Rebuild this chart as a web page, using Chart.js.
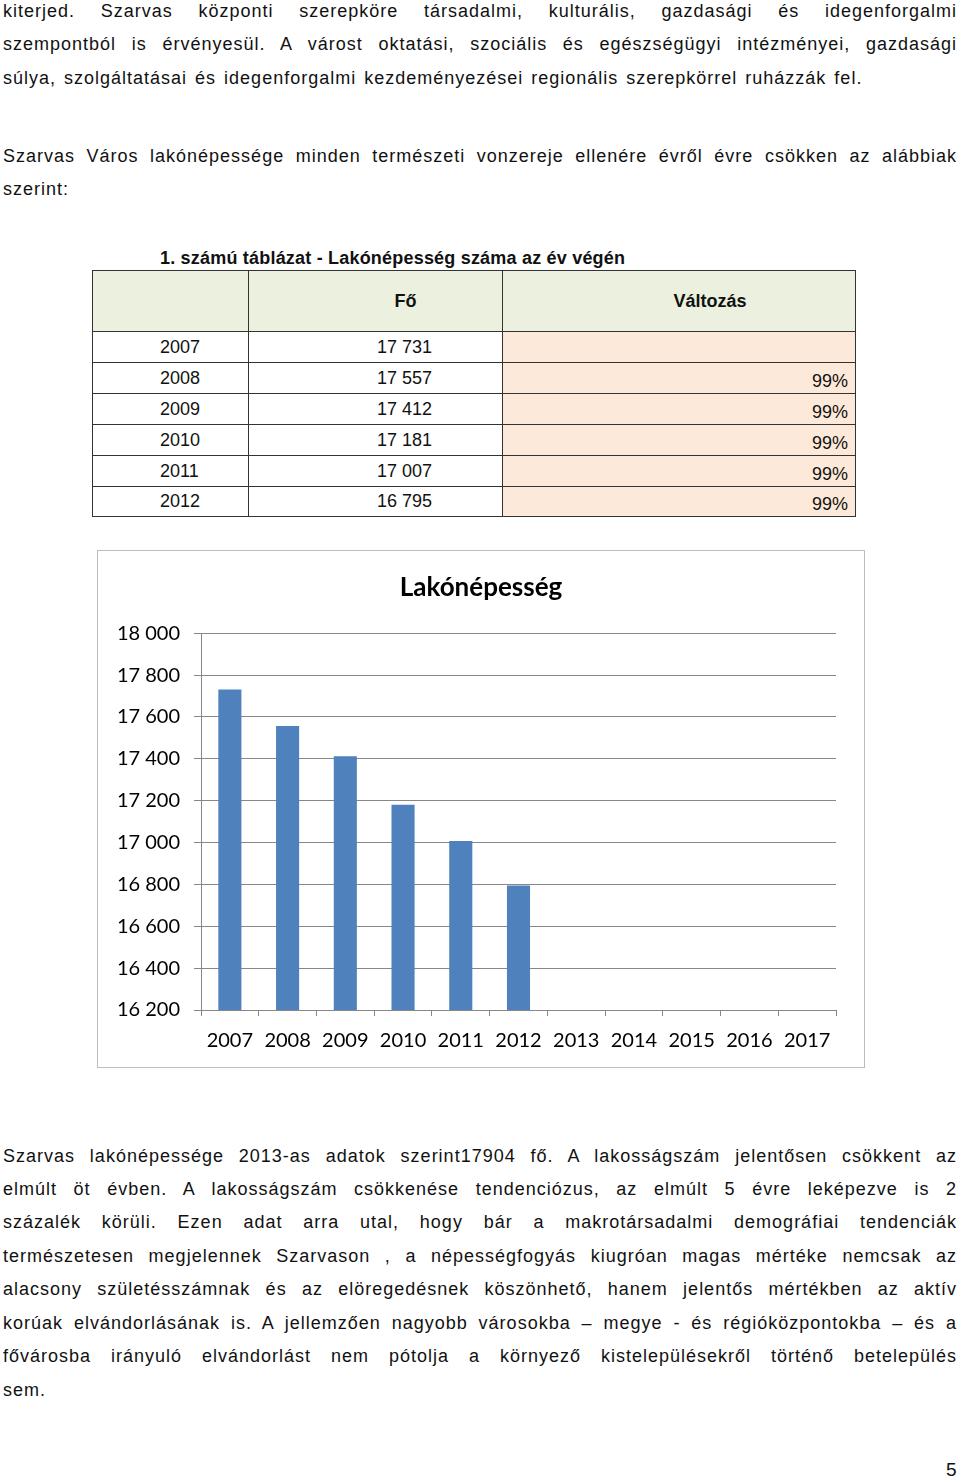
<!DOCTYPE html>
<html>
<head>
<meta charset="utf-8">
<script src="https://cdn.jsdelivr.net/npm/chart.js@4.4.0/dist/chart.umd.min.js"></script>
<style>
  body { margin: 0; background: #fff; width: 960px; height: 1478px; position: relative; overflow: hidden;
         font-family: "Liberation Sans", Arial, sans-serif; color: #111; }
  .ln { position: absolute; left: 3px; width: 954px; font-size: 18px; line-height: 24px; letter-spacing: 1px; white-space: nowrap; }
  .j { text-align: justify; text-align-last: justify; white-space: normal; }
  .wide { word-spacing: 2px; }
  #ttl { position: absolute; left: 160px; top: 247px; font-size: 18px; font-weight: bold; line-height: 22px; letter-spacing: 0.2px; }
  table { position: absolute; left: 92px; top: 270px; border-collapse: collapse; font-size: 18px; }
  td { border: 1px solid #333; padding: 0; }
  .hd td { background: #ebf1de; height: 60px; font-weight: bold; }
  .pc { background: #fde9d9; }
  #chartBox { position: absolute; left: 97px; top: 550px; width: 768px; height: 518px; border: 1px solid #bdbdbd; box-sizing: border-box; }
  #pg { position: absolute; left: 946px; top: 1458px; font-size: 19px; line-height: 24px; }
</style>
</head>
<body>
<div id="text"></div>
<div id="ttl">1. számú táblázat - Lakónépesség száma az év végén</div>
<table id="tbl"></table>
<div id="chartBox"><canvas id="myChart" width="766" height="516"></canvas></div>
<div id="pg">5</div>
<script>
// chart data
const years = ["2007", "2008", "2009", "2010", "2011", "2012", "2013", "2014", "2015", "2016", "2017"];
const population = [17731, 17557, 17412, 17181, 17007, 16795, null, null, null, null, null];
const Y_MIN = 16200;
const Y_MAX = 18000;
const Y_STEP = 200;

// table data
const tableYears = ["2007", "2008", "2009", "2010", "2011", "2012"];
const tablePop = ["17 731", "17 557", "17 412", "17 181", "17 007", "16 795"];
const tableChange = ["", "99%", "99%", "99%", "99%", "99%"];

// page text, one entry per printed line [center y, text, css class]
const lines = [
  [11, "kiterjed. Szarvas központi szerepköre társadalmi, kulturális, gazdasági és idegenforgalmi", "j"],
  [44, "szempontból is érvényesül. A várost oktatási, szociális és egészségügyi intézményei, gazdasági", "j"],
  [78, "súlya, szolgáltatásai és idegenforgalmi kezdeményezései regionális szerepkörrel ruházzák fel.", "wide"],
  [156, "Szarvas Város lakónépessége minden természeti vonzereje ellenére évről évre csökken az alábbiak", "j"],
  [189, "szerint:", ""],
  [1156, "Szarvas lakónépessége 2013-as adatok szerint17904 fő. A lakosságszám jelentősen csökkent az", "j"],
  [1189, "elmúlt öt évben.  A lakosságszám csökkenése tendenciózus, az elmúlt 5 évre leképezve is 2", "j"],
  [1222, "százalék körüli. Ezen adat arra utal, hogy bár a makrotársadalmi demográfiai tendenciák", "j"],
  [1256, "természetesen megjelennek Szarvason , a népességfogyás kiugróan magas mértéke nemcsak az", "j"],
  [1289, "alacsony születésszámnak és az elöregedésnek köszönhető, hanem jelentős mértékben az aktív", "j"],
  [1323, "korúak elvándorlásának is. A jellemzően nagyobb városokba – megye - és régióközpontokba – és a", "j"],
  [1356, "fővárosba irányuló elvándorlást nem pótolja a környező kistelepülésekről történő betelepülés", "j"],
  [1390, "sem.", ""]
];

const textDiv = document.getElementById("text");
lines.forEach(([y, t, c]) => {
  const d = document.createElement("div");
  d.className = "ln " + c;
  d.style.top = (y - 12) + "px";
  d.textContent = t;
  textDiv.appendChild(d);
});

// build table
const tbl = document.getElementById("tbl");
let html = '<tr class="hd"><td style="width:155px"></td>' +
  '<td style="width:253px;text-align:center;"><span style="position:relative;left:30px">Fő</span></td>' +
  '<td style="width:352px;text-align:center;"><span style="position:relative;left:31px">Változás</span></td></tr>';
for (let i = 0; i < tableYears.length; i++) {
  html += '<tr style="height:' + (i == 5 ? 30 : 31) + 'px">' +
    '<td style="padding-left:67px">' + tableYears[i] + '</td>' +
    '<td style="padding-left:128px">' + tablePop[i] + '</td>' +
    '<td class="pc" style="text-align:right;padding-right:7px;vertical-align:bottom;padding-bottom:1px">' + tableChange[i] + '</td></tr>';
}
tbl.innerHTML = html;

function fmt(v) {
  return String(v).replace(/\B(?=(\d{3})+(?!\d))/g, " ");
}

const ctx = document.getElementById("myChart");
const popChart = new Chart(ctx, {
  type: "bar",
  data: {
    labels: years,
    datasets: [
      {
        label: "Lakónépesség",
        data: population,
        backgroundColor: "#4f81bd",
        borderWidth: 0,
        barPercentage: 0.4,
        categoryPercentage: 1.0,
      },
    ],
  },
  options: {
    responsive: false,
    animation: false,
    layout: { padding: 0 },
    plugins: {
      legend: { display: false },
      tooltip: { enabled: false },
      title: {
        display: true,
        text: "Lakónépesség",
        color: "#000",
        font: { family: "Lato", size: 26, weight: "bold" },
        padding: { top: 21, bottom: 30 },
      },
    },
    scales: {
      x: {
        offset: true,
        grid: { display: true, drawOnChartArea: false, drawTicks: true, tickLength: 6, color: "#878787" },
        border: { display: true, color: "#878787" },
        ticks: { color: "#000", font: { family: "Lato", size: 20 }, padding: 13, maxRotation: 0, autoSkip: false },
        afterFit: function (scale) { scale.height = 57; },
      },
      y: {
        min: Y_MIN,
        max: Y_MAX,
        grid: { color: "#878787", tickLength: 7 },
        border: { display: true, color: "#878787" },
        ticks: { stepSize: Y_STEP, color: "#000", font: { family: "Lato", size: 20 }, padding: 14, callback: (v) => fmt(v) },
        afterFit: function (scale) { scale.width = 103; },
      },
      // empty right axis, only keeps the right margin so the title stays centred
      yRight: {
        position: "right",
        grid: { display: false },
        border: { display: false },
        ticks: { display: false },
        afterFit: function (scale) { scale.width = 28; },
      },
    },
  },
});
</script>
</body>
</html>
